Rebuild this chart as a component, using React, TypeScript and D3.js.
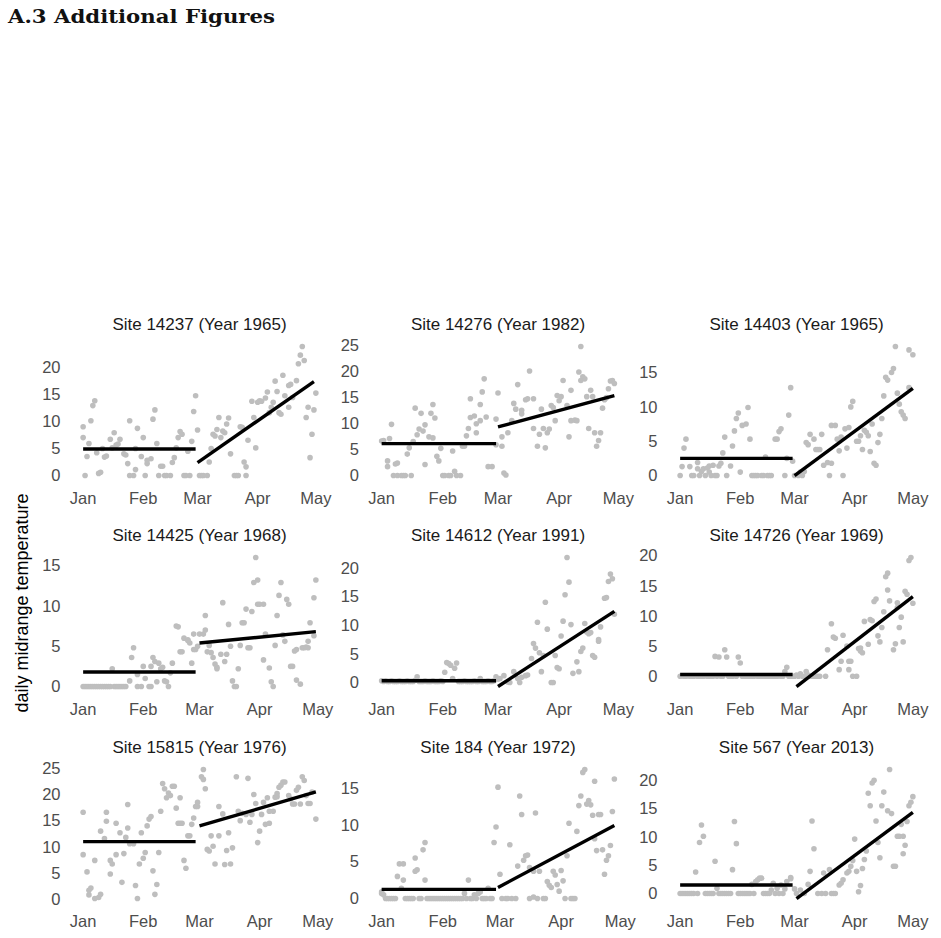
import { useEffect, useRef } from 'react';
import * as d3 from 'd3';

// [day since Jan 1, daily midrange temperature]
const pts14237 = [[0,9.0],[0,7.0],[1,0],[2,3.5],[3,5.9],[4,10.1],[5,12.9],[6,13.8],[7,4.2],[8,0.4],[9,0.6],[10,5.0],[11,3.4],[12,3.6],[14,6.7],[15,5.1],[16,7.9],[17,5.6],[18,5.8],[19,6.7],[21,4.0],[22,3.8],[23,2.2],[24,10.1],[24,0],[26,0],[27,1.1],[27,5.0],[28,8.7],[30,3.5],[31,7.0],[32,0],[33,2.2],[33,2.8],[35,3.1],[36,10.4],[37,12.1],[38,5.9],[39,0],[40,1.7],[41,1.7],[42,0],[43,0],[45,0],[46,2.4],[47,3.3],[48,5.1],[49,7.0],[50,8.1],[51,7.6],[52,0],[53,0],[54,4.5],[55,0],[56,6.3],[57,11.8],[58,14.7],[59,8.4],[60,0],[61,0],[62,0],[64,0],[65,2.5],[66,5.0],[67,7.6],[68,7.3],[69,8.5],[70,10.7],[71,7.0],[72,8.2],[73,7.9],[74,9.5],[75,10.6],[76,4.0],[78,0],[79,0],[80,0],[81,9.0],[82,8.9],[83,2.5],[84,1.6],[84,0],[85,6.5],[87,13.7],[88,10.7],[89,5.1],[90,13.5],[91,13.8],[92,13.7],[94,14.3],[95,15.4],[96,11.6],[97,12.6],[98,13.5],[99,17.4],[100,15.5],[101,11.6],[102,11.3],[103,18.5],[104,14.7],[106,12.6],[106,16.6],[107,16.8],[108,14.4],[110,17.5],[111,20.6],[112,22.2],[113,23.8],[114,21.2],[115,10.7],[116,12.6],[117,3.3],[118,7.6],[119,12.1],[120,15.2]];
const pts14276 = [[0,6.6],[1,6.7],[3,2.8],[3,1.7],[4,7.1],[5,9.8],[6,0],[7,2.2],[8,2.4],[8,0],[10,0],[11,0],[12,0],[13,4.1],[14,5.3],[15,0],[16,6.5],[17,12.9],[18,7.8],[19,8.9],[20,11.9],[21,8.5],[22,2.1],[22,9.7],[24,7.4],[25,11.9],[26,13.6],[26,7.2],[27,11.0],[28,3.7],[29,2.8],[30,5.2],[31,0],[32,0],[34,0],[35,0],[36,4.7],[37,0.8],[38,0],[40,0],[41,5.6],[42,5.6],[43,7.6],[44,9.0],[45,11.1],[45,14.7],[47,11.4],[48,8.2],[48,9.9],[50,10.5],[50,13.6],[51,16.0],[52,18.5],[53,11.2],[54,1.7],[56,1.7],[58,5.9],[58,10.8],[59,15.8],[61,7.4],[61,5.6],[62,0.5],[63,0.1],[64,8.2],[66,10.5],[67,13.8],[68,12.7],[69,17.4],[71,11.8],[71,12.5],[73,14.5],[74,14.7],[75,20.0],[77,14.7],[77,9.0],[79,5.6],[80,7.9],[81,12.7],[82,9.0],[83,5.3],[84,8.2],[85,8.9],[86,13.4],[87,13.0],[88,10.5],[89,15.3],[90,14.3],[91,15.1],[92,18.2],[94,13.4],[95,7.4],[96,16.3],[96,10.5],[98,10.6],[99,10.5],[100,19.8],[101,24.7],[101,18.2],[102,18.9],[103,18.5],[104,15.1],[105,9.0],[106,16.3],[107,15.1],[108,8.2],[109,5.6],[110,6.7],[111,8.2],[112,12.9],[113,14.5],[114,14.9],[115,16.6],[116,18.1],[117,18.2],[118,17.6]];
const pts14403 = [[0,0],[1,1.3],[2,4.0],[3,5.3],[5,1.3],[6,0],[7,0],[9,1.0],[9,1.9],[10,0],[11,0.6],[12,1.0],[13,0],[14,1.1],[15,0.5],[15,1.4],[16,0],[17,1.5],[18,0],[19,0],[20,1.4],[21,1.8],[22,3.3],[23,5.6],[24,0],[26,1.4],[27,4.3],[28,6.5],[29,8.3],[30,9.1],[31,0.5],[32,7.3],[34,7.5],[35,9.9],[36,5.3],[37,0],[38,0],[39,0],[40,0],[42,0],[43,0],[44,2.7],[45,0],[46,0],[47,0],[49,5.3],[50,5.3],[51,6.4],[52,6.8],[54,0],[55,2.5],[56,8.8],[57,12.8],[58,2.1],[59,0],[61,0],[62,0.5],[63,0],[64,0.6],[65,4.8],[66,4.5],[67,6.0],[69,5.3],[70,3.8],[71,3.8],[72,3.8],[73,6.0],[74,1.5],[76,1.9],[77,0],[78,7.3],[78,1.8],[80,7.3],[81,5.3],[82,3.6],[83,5.6],[84,0],[85,6.8],[86,4.0],[87,7.0],[88,10.0],[89,10.8],[91,5.0],[92,5.0],[93,5.8],[94,3.8],[95,6.6],[96,6.3],[97,5.8],[98,3.5],[99,7.5],[100,1.8],[101,1.5],[102,4.8],[103,6.0],[104,8.3],[105,11.6],[106,14.3],[107,13.9],[109,15.0],[110,15.6],[111,18.8],[112,12.0],[113,10.4],[114,9.3],[115,8.8],[116,8.3],[118,12.8],[118,18.3],[120,17.6]];
const pts14425 = [[0,0],[1,0],[2,0],[3,0],[4,0],[5,0],[6,0],[7,0],[8,0],[9,0],[10,0],[11,0],[12,0],[13,0],[14,0],[15,2.2],[16,0],[17,0],[18,0],[19,0],[20,0],[21,0],[22,0],[24,0.7],[25,3.6],[26,4.8],[28,0],[28,1.5],[30,0],[31,2.5],[32,1.0],[34,0],[35,0],[35,2.5],[36,3.6],[37,3.1],[38,0.6],[39,2.9],[40,2.2],[41,2.4],[42,0.7],[43,0.6],[44,0],[45,1.7],[46,2.9],[48,7.5],[49,7.4],[50,4.3],[51,4.3],[52,6.0],[54,5.8],[54,5.7],[55,5.4],[56,2.9],[57,6.5],[57,4.6],[58,4.6],[59,5.0],[60,6.5],[62,6.5],[63,7.0],[63,8.8],[64,4.3],[65,5.1],[66,4.2],[67,3.6],[68,2.8],[69,2.4],[69,2.2],[71,4.0],[72,10.4],[73,3.1],[74,4.0],[75,7.7],[76,5.0],[77,0.7],[78,0],[79,0],[80,2.2],[81,5.1],[82,7.9],[83,7.9],[84,9.6],[85,4.8],[86,4.8],[87,9.3],[88,12.9],[89,16.0],[90,10.2],[90,13.2],[91,10.2],[93,10.2],[93,3.3],[94,6.5],[96,2.3],[97,0.6],[98,0],[99,5.1],[100,8.8],[101,11.3],[102,12.9],[103,6.4],[104,5.6],[105,10.8],[106,10.2],[107,2.5],[108,2.5],[109,4.4],[110,4.6],[110,0.8],[112,0.3],[113,4.8],[114,4.8],[115,4.9],[116,4.8],[116,5.6],[117,7.9],[119,6.3],[119,11.0],[120,13.2]];
const pts14612 = [[0,0.3],[1,0.2],[2,0.3],[3,0.2],[4,0.2],[5,0.3],[6,0.2],[7,0.2],[8,0.2],[9,0.3],[10,0.2],[11,0.2],[12,0.2],[13,0.3],[14,0.2],[15,0.2],[16,0.2],[17,0.4],[18,1.0],[19,0.2],[20,0.2],[21,0.2],[22,0.3],[23,0.2],[24,0.2],[25,0.2],[26,0.3],[27,0.2],[28,0.2],[29,0.2],[30,0.3],[31,0.2],[32,1.8],[33,3.5],[34,3.3],[35,3.0],[36,0.7],[37,2.5],[38,3.4],[39,0.2],[40,0.2],[41,0.2],[42,0.3],[43,0.2],[44,0.2],[45,0.2],[46,0.2],[47,0.3],[48,0.2],[49,0.2],[50,0.7],[51,0.2],[52,0.2],[53,0.2],[54,0.3],[55,0.2],[56,0.2],[57,0.3],[58,1.0],[59,0.6],[60,0.7],[62,1.2],[64,0.1],[65,0],[67,1.9],[69,0.7],[70,0],[71,0.9],[73,1.2],[74,1.3],[76,4.2],[77,6.8],[78,6.0],[79,10.5],[80,5.2],[81,1.9],[82,4.7],[83,14.0],[84,9.3],[86,0],[87,0],[88,4.7],[89,2.6],[90,2.4],[91,8.1],[92,10.7],[93,15.3],[94,21.8],[95,17.5],[96,10.1],[97,1.6],[99,3.6],[100,1.9],[101,5.4],[102,6.0],[103,10.3],[104,8.8],[105,8.5],[106,8.7],[107,4.7],[108,4.4],[110,7.2],[110,7.5],[111,9.7],[113,14.7],[114,14.8],[115,17.6],[116,18.9],[117,18.1],[118,11.9]];
const pts14726 = [[0,0],[1,0.1],[2,0],[3,0],[4,0.1],[5,0],[6,0],[7,0],[8,0.1],[9,0],[10,0],[11,0],[12,0],[13,0.1],[14,0],[15,0],[16,0],[17,0],[18,3.3],[19,0],[20,3.2],[21,0],[22,0],[23,4.4],[24,3.2],[25,0],[26,0],[27,0],[28,0.1],[29,0],[30,3.2],[31,2.2],[32,0],[33,0],[34,0],[35,0],[36,0],[37,0],[38,0],[39,0.1],[40,0],[41,0],[42,0],[43,0],[44,0],[45,0],[46,0],[47,0],[48,0],[49,0],[50,0],[51,0.1],[52,0],[53,0],[54,0.8],[55,1.5],[56,0],[57,0],[58,0],[59,0],[60,0.2],[61,0],[62,0.4],[63,0],[64,0],[65,0.8],[66,0.2],[67,0],[68,0],[69,0],[70,0],[71,0],[72,0],[75,0],[76,4.4],[78,8.7],[79,6.5],[80,6.3],[82,1.1],[83,2.5],[84,6.8],[86,5.0],[87,1.1],[87,2.5],[88,2.5],[89,0],[91,0],[92,4.6],[93,4.7],[93,4.2],[94,3.9],[95,9.1],[97,5.3],[98,9.4],[99,9.2],[100,12.4],[101,12.8],[102,6.7],[103,5.7],[104,8.1],[105,10.7],[106,16.5],[107,17.1],[107,14.3],[108,12.5],[110,4.4],[111,5.4],[112,11.4],[112,12.2],[113,8.1],[114,9.8],[115,5.7],[116,14.1],[117,13.6],[118,19.2],[119,19.7],[120,12.1]];
const pts15815 = [[0,8.5],[0,16.6],[2,5.2],[3,1.7],[3,0.8],[4,2.1],[6,7.4],[6,0.1],[8,0.3],[9,0.9],[9,13.0],[11,11.6],[12,16.6],[12,14.9],[14,4.8],[14,7.4],[15,6.7],[17,8.5],[17,14.5],[19,12.7],[20,3.2],[21,8.7],[22,11.8],[23,13.6],[23,18.1],[24,10.6],[26,10.6],[27,2.6],[28,0.1],[29,6.7],[30,12.7],[31,7.8],[32,8.9],[33,14.0],[34,15.3],[35,15.8],[36,5.4],[37,0.9],[38,2.8],[39,8.9],[40,16.8],[41,22.1],[42,21.1],[43,19.4],[44,20.3],[45,19.8],[46,21.6],[47,21.6],[48,17.4],[49,14.5],[50,14.5],[51,14.5],[50,19.4],[52,7.4],[53,5.9],[54,12.1],[55,12.1],[56,14.3],[57,15.5],[58,17.7],[59,17.7],[59,18.5],[61,23.4],[62,24.8],[62,22.9],[63,21.1],[64,9.5],[65,9.2],[66,12.1],[67,10.1],[68,6.7],[70,12.1],[70,17.7],[72,16.3],[73,6.6],[74,9.3],[75,12.7],[76,6.7],[77,9.8],[79,23.4],[80,16.8],[81,15.0],[82,16.4],[84,16.2],[85,23.1],[86,14.7],[87,16.2],[88,20.0],[89,18.3],[90,10.8],[91,13.0],[92,16.2],[93,18.5],[94,14.3],[95,19.4],[96,14.5],[96,16.8],[98,16.8],[99,19.5],[100,19.6],[100,20.2],[101,21.4],[102,21.8],[103,22.4],[104,22.4],[106,19.8],[107,19.2],[108,18.2],[109,18.2],[110,20.8],[111,21.4],[112,18.2],[113,23.4],[114,22.7],[115,19.8],[116,18.3],[117,18.3],[118,20.5],[120,15.3]];
const pts184 = [[0,0.9],[0,0.7],[1,0.5],[2,0],[3,0],[4,0],[5,0],[6,0],[7,0],[8,3.0],[9,4.7],[10,1.4],[11,2.5],[11,4.7],[12,0],[13,0],[14,0],[15,0],[16,0],[17,5.5],[17,3.7],[18,3.9],[19,0],[20,0],[21,6.6],[22,2.5],[22,7.6],[23,0],[24,0],[25,0],[26,0],[27,0],[28,0],[29,0],[30,0],[31,0],[32,0],[33,0],[34,0],[35,0],[36,0],[37,0],[38,0],[39,0],[40,0],[41,0],[42,0.7],[43,0],[44,2.5],[45,0],[46,0],[47,0.5],[48,0],[49,0.7],[50,0.9],[51,0],[52,0],[53,0],[54,1.4],[55,0],[56,0],[57,7.6],[58,9.7],[59,15.1],[60,3.3],[61,0],[63,0],[64,0],[65,7.3],[66,0],[68,0],[69,4.4],[70,13.9],[71,11.4],[72,5.2],[73,5.8],[74,5.9],[75,4.2],[75,0],[77,0.2],[77,3.7],[78,11.6],[79,0],[80,3.7],[82,0],[83,0],[84,2.3],[85,1.8],[86,1.5],[87,3.7],[88,3.2],[89,1.9],[90,1.0],[91,3.8],[92,2.4],[93,0],[94,5.8],[95,10.2],[96,0],[97,0],[98,0],[99,9.1],[100,12.6],[101,13.9],[102,17.1],[103,17.5],[104,12.8],[105,13.3],[106,12.7],[107,11.3],[108,15.9],[108,8.1],[109,6.5],[110,11.4],[111,11.4],[112,6.6],[113,3.3],[114,5.2],[115,5.8],[116,7.2],[117,11.8],[118,16.2]];
const pts567 = [[0,0],[1,0],[2,0],[3,0],[4,0],[5,0],[6,0],[7,0],[8,3.8],[9,0],[10,9.0],[11,12.1],[12,10.1],[13,0],[14,0],[15,0],[16,0],[17,0],[18,5.7],[19,0.9],[20,0],[21,0],[22,0],[23,0],[24,0],[25,0],[26,0],[27,4.2],[28,12.7],[29,8.8],[30,0],[31,0],[32,0],[33,0],[34,0],[35,0],[36,0],[37,1.6],[38,0],[39,2.1],[40,2.4],[41,2.7],[42,2.7],[43,0],[44,0],[45,0],[46,0],[47,0.6],[48,1.8],[49,0],[50,0.9],[51,0],[52,1.5],[53,0],[54,0.8],[55,2.1],[57,2.6],[57,2.8],[59,0.8],[60,0],[62,0.6],[64,0],[66,1.6],[67,3.9],[68,12.8],[69,7.9],[71,0],[73,0],[74,3.6],[75,0],[77,4.2],[78,0],[79,0],[80,0],[82,1.5],[83,1.8],[84,2.4],[86,3.6],[87,3.9],[88,4.8],[89,5.8],[90,9.6],[91,3.9],[92,0.3],[93,1.4],[94,4.4],[95,6.0],[96,7.5],[97,17.7],[98,15.5],[99,19.5],[100,20.0],[101,12.8],[102,9.0],[103,6.3],[104,15.5],[105,17.9],[107,14.6],[108,21.9],[109,14.1],[110,4.8],[111,4.8],[112,10.1],[113,10.1],[114,12.2],[115,10.1],[115,7.0],[116,8.5],[117,12.7],[118,15.5],[119,16.1],[120,17.1]];

// fitted segments: [startDay, startValue, endDay, endValue]
const fit14237 = [[0,4.9,58,4.9],[59,2.4,119,17.3]];
const fit14276 = [[0,6.1,58,6.1],[59,9.3,118,15.3]];
const fit14403 = [[0,2.5,58,2.5],[59,0,120,12.7]];
const fit14425 = [[0,1.8,58,1.8],[60,5.4,120,6.8]];
const fit14612 = [[0,0.3,58,0.3],[59,-0.7,118,12.4]];
const fit14726 = [[0,0.3,58,0.3],[60,-1.7,120,13.2]];
const fit15815 = [[0,11.0,58,11.0],[60,14.0,120,20.5]];
const fit184 = [[0,1.25,58,1.25],[59,1.5,118,9.9]];
const fit567 = [[0,1.5,58,1.5],[60,-0.9,120,14.3]];

const sites = ['14237', '14276', '14403', '14425', '14612', '14726', '15815', '184', '567'];
const years = [1965, 1982, 1965, 1968, 1991, 1969, 1976, 1972, 2013];
const pointSets = [pts14237, pts14276, pts14403, pts14425, pts14612, pts14726, pts15815, pts184, pts567];
const fitSets = [fit14237, fit14276, fit14403, fit14425, fit14612, fit14726, fit15815, fit184, fit567];

const FONT = 'Liberation Sans, Arial, Helvetica, sans-serif';

function App() {
  const svgRef = useRef<SVGSVGElement>(null);

  useEffect(() => {
    drawFacets()
    // eslint-disable-next-line
  }, [])

  function drawFacets() {
    const svg = d3.select(svgRef.current);
    svg.selectAll('*').remove();

    const config = {
      lefts: [71.5, 370, 668.5],
      tops: [340, 551, 763],
      width: 256,
      height: 142,
    };

    svg.append('text')
      .attr('x', 8).attr('y', 23)
      .attr('font-family', 'DejaVu Serif, Liberation Serif, serif')
      .attr('font-weight', 'bold')
      .attr('font-size', 18)
      .attr('textLength', 267)
      .attr('lengthAdjust', 'spacingAndGlyphs')
      .attr('fill', '#111')
      .text('A.3 Additional Figures');

    svg.append('text')
      .attr('transform', 'translate(28,603) rotate(-90)')
      .attr('text-anchor', 'middle')
      .attr('font-family', FONT)
      .attr('font-size', 18)
      .attr('fill', '#000')
      .text('daily midrange temperature');

    sites.forEach((site, i) => {
      const left = config.lefts[i % 3];
      const top = config.tops[Math.floor(i / 3)];
      const year = years[i];
      const pts = pointSets[i];
      const fits = fitSets[i];
      const jan1 = Date.UTC(year, 0, 1);
      const toDate = (d: number) => new Date(jan1 + d * 864e5);

      const days = pts.map(p => p[0]).concat(fits.flatMap(f => [f[0], f[2]]));
      const vals = pts.map(p => p[1]).concat(fits.flatMap(f => [f[1], f[3]]));
      const [d0, d1] = d3.extent(days) as [number, number];
      const [v0, v1] = d3.extent(vals) as [number, number];
      const px = (d1 - d0) * 0.05;
      const py = (v1 - v0) * 0.05;

      const x = d3.scaleUtc()
        .domain([toDate(d0 - px), toDate(d1 + px)])
        .range([left, left + config.width]);
      const y = d3.scaleLinear()
        .domain([v0 - py, v1 + py])
        .range([top + config.height, top]);

      const g = svg.append('g');

      g.append('text')
        .attr('x', left + config.width / 2)
        .attr('y', top - 16)
        .attr('dy', '0.35em')
        .attr('text-anchor', 'middle')
        .attr('font-family', FONT)
        .attr('font-size', 17)
        .attr('fill', '#1a1a1a')
        .text(`Site ${site} (Year ${year})`);

      g.selectAll('.ytick')
        .data(y.ticks(5))
        .join('text')
        .attr('x', left - 11)
        .attr('y', d => y(d))
        .attr('dy', '0.35em')
        .attr('text-anchor', 'end')
        .attr('font-family', FONT)
        .attr('font-size', 16.5)
        .attr('fill', '#4d4d4d')
        .text(d => d);

      g.selectAll('.xtick')
        .data(x.ticks(d3.utcMonth.every(1) as d3.TimeInterval))
        .join('text')
        .attr('x', d => x(d))
        .attr('y', top + config.height + 16)
        .attr('dy', '0.35em')
        .attr('text-anchor', 'middle')
        .attr('font-family', FONT)
        .attr('font-size', 16.5)
        .attr('fill', '#4d4d4d')
        .text(d => d3.utcFormat('%b')(d));

      g.selectAll('circle')
        .data(pts)
        .join('circle')
        .attr('cx', d => x(toDate(d[0])))
        .attr('cy', d => y(d[1]))
        .attr('r', 2.8)
        .attr('fill', '#bebebe');

      const line = d3.line<number[]>()
        .x(d => x(toDate(d[0])))
        .y(d => y(d[1]));

      fits.forEach(f => {
        g.append('path')
          .datum([[f[0], f[1]], [f[2], f[3]]])
          .attr('d', line)
          .attr('fill', 'none')
          .attr('stroke', '#000')
          .attr('stroke-width', 3.4);
      });
    });
  }

  return (
    <svg ref={svgRef} width={941} height={938}
      style={{ position: 'absolute', left: 0, top: 0, background: '#fff' }} />
  )
}

export default App
